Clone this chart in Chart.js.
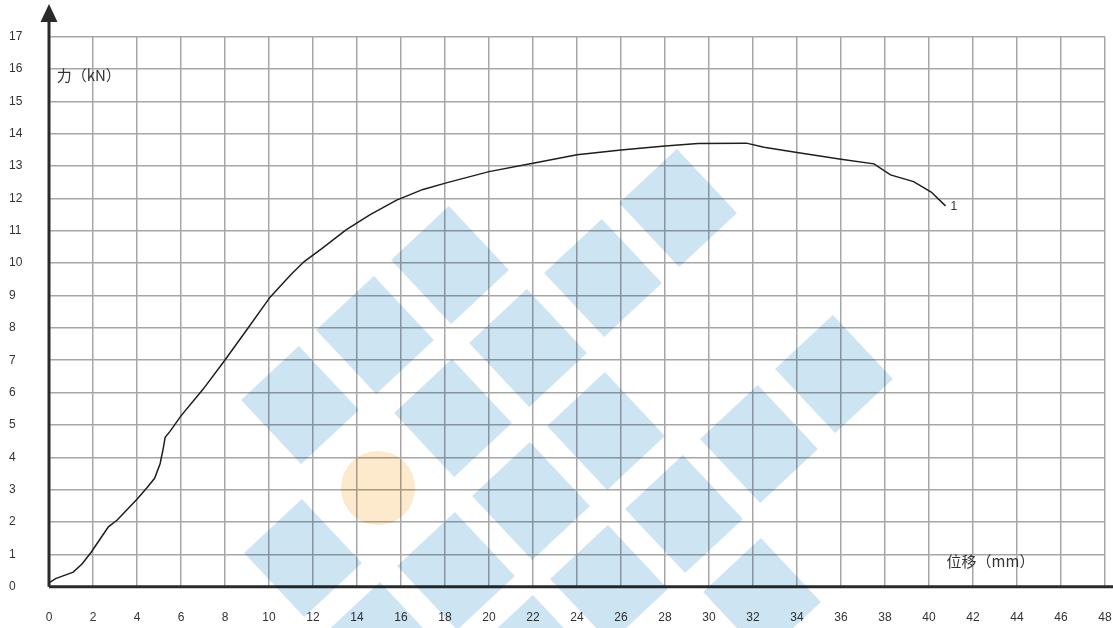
<!DOCTYPE html>
<html>
<head>
<meta charset="utf-8">
<script src="https://cdn.jsdelivr.net/npm/chart.js@4.4.1/dist/chart.umd.min.js"></script>
<style>
  body { margin: 0; background: #fff; }
  #wrap { width: 1113px; height: 628px; }
</style>
</head>
<body>
<div id="wrap"><canvas id="c"></canvas></div>
<script>
// displacement (mm) and force (kN)
const dispMm = [0, 0.3, 1.1, 1.5, 1.9, 2.3, 2.7, 3.1, 4.0, 4.5, 4.8, 5.05, 5.2, 5.28, 5.5, 6.0, 7.0, 7.95, 9.0, 10.05,
  11.0, 11.6, 12.4, 13.5, 14.6, 15.8, 17.0, 18.1, 20.0, 22.0, 24.0, 26.0, 28.0, 29.5, 31.7, 32.5, 34.0, 36.0, 37.5,
  38.25, 39.3, 40.1, 40.75];
const forceKn = [0.12, 0.25, 0.45, 0.7, 1.05, 1.45, 1.85, 2.06, 2.7, 3.1, 3.35, 3.8, 4.3, 4.62, 4.8, 5.28, 6.1, 6.96, 7.95, 8.95,
  9.65, 10.05, 10.45, 11.03, 11.5, 11.95, 12.28, 12.49, 12.83, 13.09, 13.35, 13.5, 13.62, 13.7, 13.71, 13.58, 13.42, 13.21, 13.07,
  12.73, 12.52, 12.2, 11.77];
const curveName = '1';
const xTitle = '位移（mm）';
const yTitle = '力（kN）';
const xMax = 48;
const yMax = 17;

const points = dispMm.map((x, i) => ({ x: x, y: forceKn[i] }));

// light watermark over the plot (lattice of diamonds + one dot)
const wmOrigin = [300, 405];
const wmU = [75, -70];
const wmV = [78, 83];
const wmDiamonds = [[0,0],[1,0],[2,0],[1,1],[2,1],[3,1],[4,1],[-1,1],[0,2],[1,2],[2,2],[3,3],[4,3],[2,3],[2,4],[1,3],[-1,2],[0,3]];
const wmDot = [0, 1];

const watermark = {
  id: 'watermark',
  afterDraw(chart) {
    const ctx = chart.ctx;
    const at = (a, b) => [wmOrigin[0] + a * wmU[0] + b * wmV[0], wmOrigin[1] + a * wmU[1] + b * wmV[1]];
    const k = 0.385;
    ctx.save();
    ctx.globalCompositeOperation = 'multiply';
    ctx.fillStyle = '#cde4f3';
    wmDiamonds.forEach(([a, b]) => {
      const c = at(a, b);
      const p = (s, t) => [c[0] + k * (s * wmU[0] + t * wmV[0]), c[1] + k * (s * wmU[1] + t * wmV[1])];
      const q = [p(1, 1), p(1, -1), p(-1, -1), p(-1, 1)];
      ctx.beginPath();
      ctx.moveTo(q[0][0], q[0][1]);
      q.slice(1).forEach(pt => ctx.lineTo(pt[0], pt[1]));
      ctx.closePath();
      ctx.fill();
    });
    const d = at(wmDot[0], wmDot[1]);
    ctx.fillStyle = '#fde9cc';
    ctx.beginPath();
    ctx.arc(d[0], d[1], 37, 0, Math.PI * 2);
    ctx.fill();
    ctx.restore();
  }
};

const axesAndText = {
  id: 'axesAndText',
  beforeDraw(chart) {
    const ctx = chart.ctx;
    ctx.save();
    ctx.fillStyle = '#fff';
    ctx.fillRect(0, 0, chart.width, chart.height);
    ctx.restore();
  },
  afterDatasetsDraw(chart) {
    const ctx = chart.ctx;
    const a = chart.chartArea;
    const xs = chart.scales.x, ys = chart.scales.y;
    ctx.save();
    ctx.strokeStyle = '#2a2a2a';
    ctx.lineWidth = 3;
    ctx.beginPath();
    ctx.moveTo(a.left, a.bottom);
    ctx.lineTo(chart.width, a.bottom);
    ctx.moveTo(a.left, a.bottom);
    ctx.lineTo(a.left, 18);
    ctx.stroke();
    // arrow head
    ctx.fillStyle = '#2a2a2a';
    ctx.beginPath();
    ctx.moveTo(a.left, 4);
    ctx.lineTo(a.left - 8.5, 22);
    ctx.lineTo(a.left + 8.5, 22);
    ctx.closePath();
    ctx.fill();

    ctx.fillStyle = '#333';
    ctx.font = '15px "Noto Sans CJK SC"';
    ctx.textBaseline = 'middle';
    ctx.textAlign = 'left';
    ctx.fillText(yTitle, xs.getPixelForValue(0.35), ys.getPixelForValue(15.8));
    ctx.fillText(xTitle, xs.getPixelForValue(40.8), ys.getPixelForValue(0.78));

    const last = points[points.length - 1];
    ctx.font = '12px "Liberation Sans"';
    ctx.fillText(curveName, xs.getPixelForValue(last.x) + 5, ys.getPixelForValue(last.y) + 1);
    ctx.restore();
  }
};

new Chart(document.getElementById('c'), {
  type: 'scatter',
  data: {
    datasets: [{
      data: points,
      showLine: true,
      borderColor: '#1e1e1e',
      borderWidth: 1.5,
      pointRadius: 0,
      tension: 0,
      fill: false
    }]
  },
  options: {
    responsive: true,
    maintainAspectRatio: false,
    animation: false,
    layout: { padding: { left: 9, top: 36.7, right: 8, bottom: 0 } },
    plugins: { legend: { display: false }, tooltip: { enabled: false } },
    scales: {
      x: {
        type: 'linear',
        min: 0,
        max: xMax,
        border: { display: false },
        grid: { color: '#a6a6a6', lineWidth: 1.5, drawTicks: false },
        ticks: { stepSize: 2, padding: 24, color: '#333', font: { family: 'Liberation Sans', size: 12 } },
        afterFit(s) { s.height = 41.3; s.paddingLeft = 0; s.paddingRight = 0; }
      },
      y: {
        type: 'linear',
        min: 0,
        max: yMax,
        border: { display: false },
        grid: { color: '#a6a6a6', lineWidth: 1.5, drawTicks: false },
        ticks: { stepSize: 1, crossAlign: 'far', padding: 8, color: '#333', font: { family: 'Liberation Sans', size: 12 } },
        afterFit(s) { s.width = 40; s.paddingTop = 0; s.paddingBottom = 0; }
      }
    }
  },
  plugins: [axesAndText, watermark]
});
</script>
</body>
</html>
